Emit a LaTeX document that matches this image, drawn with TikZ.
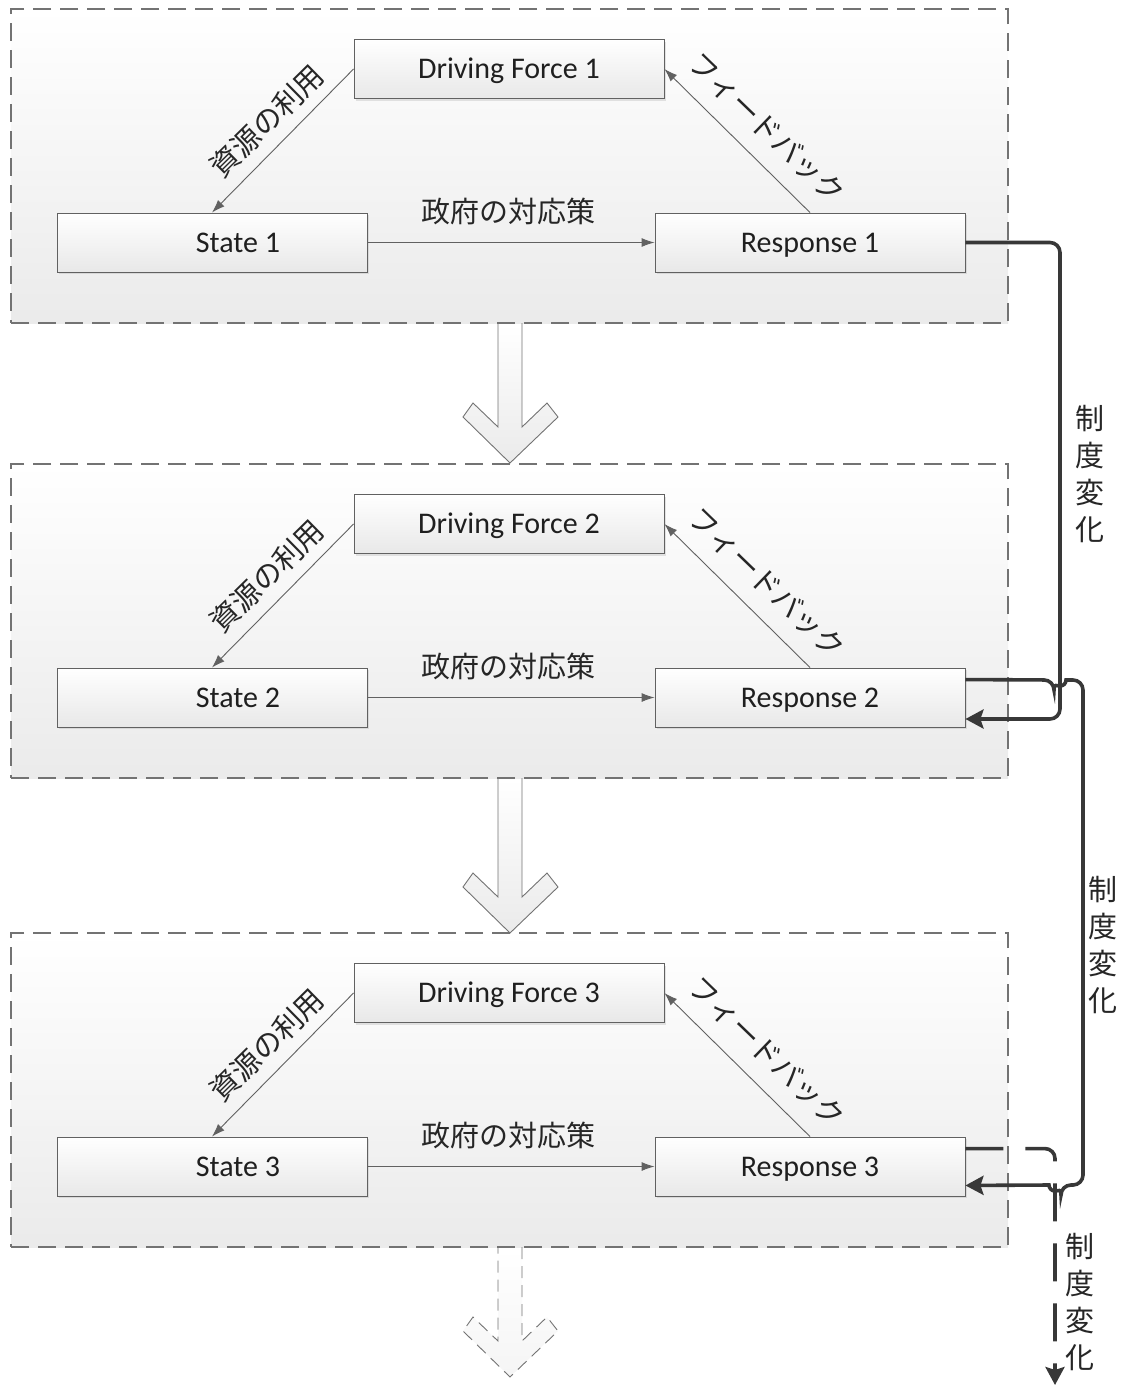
\documentclass[tikz,border=0pt]{standalone}
\usepackage{fontspec}
\newfontfamily\carlito{Carlito}
\newfontfamily\jp{Noto Sans CJK JP}
\usetikzlibrary{arrows.meta,calc,shadows}
\begin{document}
\begin{tikzpicture}[x=1pt,y=-1pt,
  panel/.style={draw=black!55, line width=1.1pt, dash pattern=on 18pt off 9pt,
    top color=white, bottom color=black!8, minimum width=997pt, minimum height=314pt, inner sep=0pt},
  box/.style={draw=black!62, line width=0.9pt, top color=white, bottom color=black!9,
    minimum width=310pt, minimum height=59pt, inner sep=0pt, text height=24pt, text depth=5pt,
    font=\carlito\fontsize{30}{36}\selectfont, text=black!88,
    drop shadow={shadow xshift=2pt, shadow yshift=-2pt, opacity=0.25, fill=black!40}},
  thinarr/.style={draw=black!62, line width=0.9pt, -{Latex[length=13pt,width=9pt]}},
  jplab/.style={font=\jp\fontsize{29}{36}\selectfont, text=black!85, inner sep=0pt},
  vlab/.style={font=\jp\fontsize{29}{37}\selectfont, text=black!85, align=center, inner sep=0pt},
  blockfill/.style={top color=white, bottom color=black!8},
  blockline/.style={draw=black!55, line width=0.9pt, line join=miter},
  conn/.style={draw=black!78, line width=3.6pt, rounded corners=10pt},
  bigtip/.style={-{Stealth[length=18pt,width=19pt,inset=3pt]}},
]
\useasboundingbox (0,0) rectangle (1124,1387);

% panels with their contents
\foreach \i/\d in {1/0,2/455,3/924} {
  \node[panel] (p\i) at (509.5,166+\d) {};
  \node[box] (df\i) at (509,69+\d) {Driving Force \i};
  \node[box] (st\i) at (212,242.5+\d) {\hspace*{52pt}State \i};
  \node[box] (rs\i) at (810,242.5+\d) {Response \i};
  \draw[thinarr] (st\i) -- (rs\i);
  \draw[thinarr] (df\i.west) -- (st\i.north);
  \draw[thinarr] (rs\i.north) -- (df\i.east);
  \node[jplab] (gov\i) at (508,211+\d) {政府の対応策};
  \node[jplab, rotate=44.5] (res\i) at (267,121+\d) {資源の利用};
  \node[jplab, rotate=-44] (fb\i) at (767,128+\d) {フィードバック};
}

% block arrows between panels
\foreach \t/\T in {323/463, 778/933} {
  \path[blockfill] (498,\t+1) -- (522,\t+1) -- (522,\T-36) -- (547,\T-60) -- (558,\T-46)
    -- (510,\T) -- (463,\T-46) -- (473,\T-60) -- (498,\T-36) -- cycle;
  \draw[blockline] (522,\t) -- (522,\T-36) -- (547,\T-60) -- (558,\T-46)
    -- (510,\T) -- (463,\T-46) -- (473,\T-60) -- (498,\T-36) -- (498,\t);
}
% dashed block arrow below
\path[top color=white, bottom color=black!4] (498,1248) -- (522,1248) -- (522,1341) -- (547,1317) -- (558,1331)
  -- (510,1377) -- (463,1331) -- (473,1317) -- (498,1341) -- cycle;
\draw[blockline, dash pattern=on 12pt off 7pt] (522,1247) -- (522,1341) -- (547,1317) -- (558,1331)
  -- (510,1377) -- (463,1331) -- (473,1317) -- (498,1341) -- (498,1247);

% connectors on the right
\coordinate (c1a) at (1060,719);
\draw[conn, bigtip] (rs1.east) -| (c1a) -- (c1a -| rs2.east);

\coordinate (c3s) at ($(rs3.north east)+(0,12)$);
\coordinate (c3e) at (1055,1385);
\draw[conn, dash pattern=on 38pt off 22pt, bigtip] (c3s) -| (c3e);

\coordinate (c2s) at ($(rs2.north east)+(0,12)$);
\coordinate (c2e) at ($(rs3.south east)+(0,-11)$);
\draw[conn, bigtip] (c2s) -- (1054,680) [sharp corners] arc[start angle=180, end angle=0, radius=6]
  [rounded corners=10pt] -- (1083,680) -- (1083,1185) -- (1061,1185) [sharp corners]
  arc[start angle=0, end angle=180, radius=6] -- (c2e);

% labels
\node[vlab] (lab1) at (1090,474) {制\\度\\変\\化};
\node[vlab] (lab2) at (1103,945) {制\\度\\変\\化};
\node[vlab] (lab3) at (1080,1302) {制\\度\\変\\化};
\end{tikzpicture}
\end{document}
